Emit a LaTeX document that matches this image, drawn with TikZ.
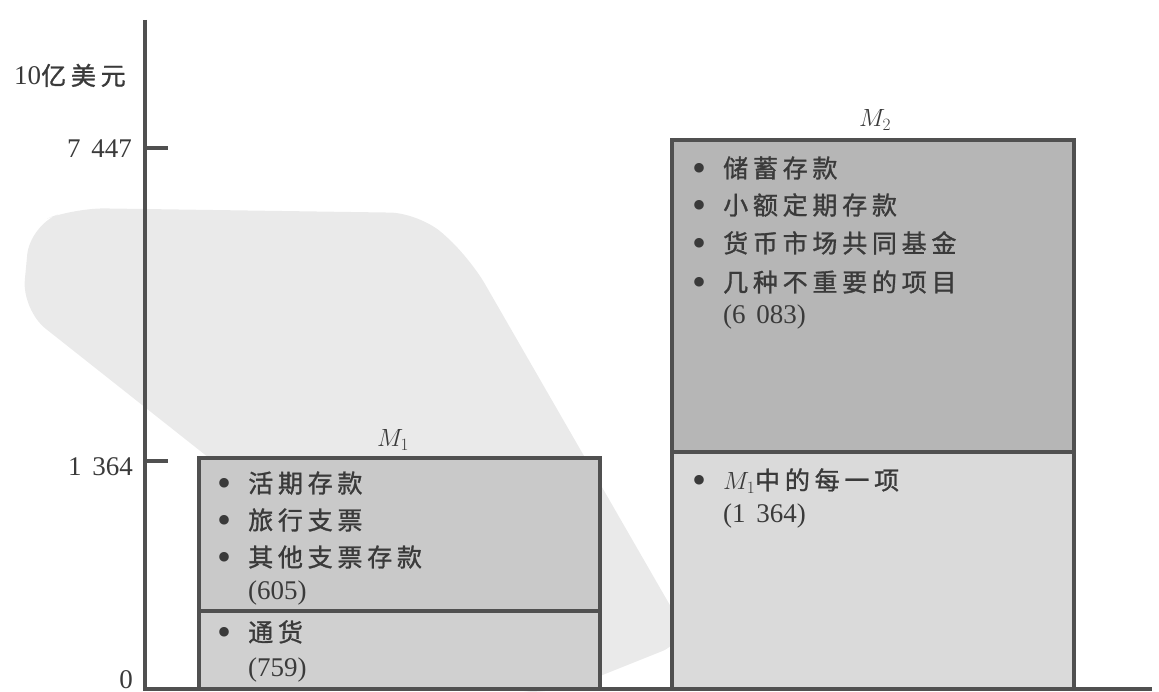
\documentclass[tikz,border=0pt]{standalone}
\usepackage{fontspec}
\setmainfont{Liberation Serif}
\newfontfamily\cjk[LetterSpace=19,FakeBold=1.2]{Noto Sans CJK SC}
\definecolor{linec}{HTML}{505050}
\definecolor{textc}{HTML}{3A3A3A}
\definecolor{wmc}{HTML}{EAEAEA}
\definecolor{fmoa}{HTML}{C9C9C9}
\definecolor{fmob}{HTML}{D0D0D0}
\definecolor{fmta}{HTML}{B6B6B6}
\definecolor{fmtb}{HTML}{DADADA}
\newcommand\bul{\llap{\makebox[48pt][c]{\raisebox{-4pt}{\fontsize{40}{40}\selectfont\textbullet}}}}
\newcommand\nsp{\hspace{0.4em}}
\tikzset{
  boxnode/.style={draw=linec, line width=3.5pt, inner sep=0pt, outer sep=0pt, anchor=north west},
  axisline/.style={draw=linec, line width=3.5pt},
  txt/.style={inner sep=0pt, anchor=base west, text=textc, font=\fontsize{25}{30}\selectfont},
  num/.style={inner sep=0pt, anchor=base west, text=textc, font=\fontsize{27}{32}\selectfont},
  mlab/.style={inner sep=0pt, text=textc, font=\fontsize{23}{28}\selectfont},
}
\begin{document}
\begin{tikzpicture}[x=1pt,y=-1pt]
\useasboundingbox (0,0) rectangle (1159,692);
% watermark
\fill[wmc, rounded corners=30pt] (22,310) -- (30,225) -- (75,208) -- (420,213) -- (470,258) -- (690,640) -- (560,692) -- (505,692) -- cycle;
% boxes
\node[boxnode, fill=fmoa, minimum width=401pt, minimum height=153pt] (m1a) at (199,458) {};
\node[boxnode, fill=fmob, minimum width=401pt, minimum height=78pt] (m1b) at (199,611) {};
\node[boxnode, fill=fmta, minimum width=402pt, minimum height=312pt] (m2a) at (672,140) {};
\node[boxnode, fill=fmtb, minimum width=402pt, minimum height=237pt] (m2b) at (672,452) {};
% axes
\coordinate (ytop) at (145,20);
\coordinate (orig) at (145,689);
\coordinate (xend) at (1152,689);
\coordinate (tka) at (145,148);
\coordinate (tkb) at (168,148);
\coordinate (tkc) at (145,461);
\coordinate (tkd) at (168,461);
\draw[axisline] (ytop) -- (orig) -- (xend);
\draw[axisline] (tka) -- (tkb);
\draw[axisline] (tkc) -- (tkd);
% axis labels
\node[txt] (unit) at (14,85) {\fontsize{27}{30}\selectfont 10{\cjk\fontsize{25}{30}\selectfont 亿美元}};
\node[num, anchor=base east] (l7447) at (132,158) {7\nsp 447};
\node[num, anchor=base east] (l1364) at (133,475) {1\nsp 364};
\node[num, anchor=base east] (l0) at (133,688) {0};
% column labels
\node[mlab] (m1lab) at (393,440) {$M_1$};
\node[mlab] (m2lab) at (875,120) {$M_2$};
% M1 texts
\node[txt] (a1) at (248,492.5) {\bul{\cjk 活期存款}};
\node[txt] (a2) at (248,529.5) {\bul{\cjk 旅行支票}};
\node[txt] (a3) at (248,566.5) {\bul{\cjk 其他支票存款}};
\node[num] (a4) at (248,599) {(605)};
\node[txt] (b1) at (248,641.5) {\bul{\cjk 通货}};
\node[num] (b2) at (248,676) {(759)};
% M2 texts
\node[txt] (c1) at (723,177.5) {\bul{\cjk 储蓄存款}};
\node[txt] (c2) at (723,214.5) {\bul{\cjk 小额定期存款}};
\node[txt] (c3) at (723,252.5) {\bul{\cjk 货币市场共同基金}};
\node[txt] (c4) at (723,291.5) {\bul{\cjk 几种不重要的项目}};
\node[num] (c5) at (723,324) {(6\nsp 083)};
\node[txt] (d1) at (723,489.5) {\bul$M_1${\cjk 中的每一项}};
\node[num] (d2) at (723,522) {(1\nsp 364)};
\end{tikzpicture}
\end{document}
